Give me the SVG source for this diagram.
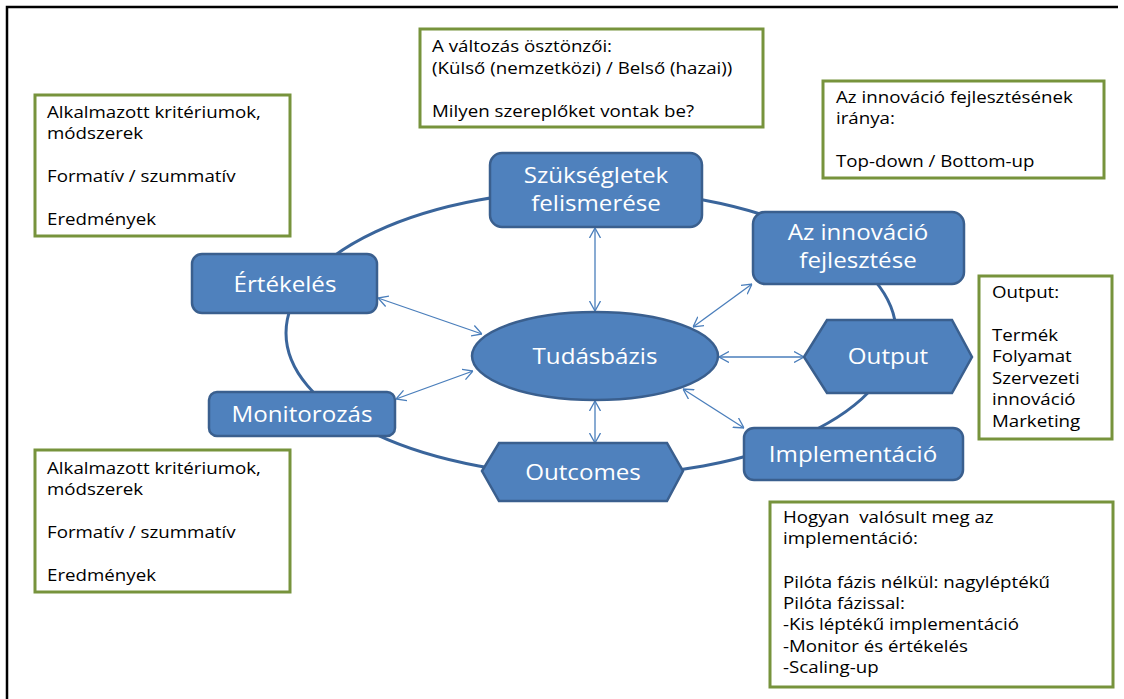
<svg xmlns="http://www.w3.org/2000/svg" width="1124" height="699" viewBox="0 0 1124 699">
<style>
.box{fill:#fff;stroke:#77933c;stroke-width:3}
.bt{font-family:"Open Sans","Noto Sans",sans-serif;font-size:16px;fill:#000;transform-box:fill-box;transform-origin:left center;transform:scaleX(1.17)}
.node{fill:#4f81bd;stroke:#3a5f8e;stroke-width:2.5}
.nt{font-family:"Open Sans","Noto Sans",sans-serif;font-size:21px;fill:#fff;text-anchor:middle;transform-box:fill-box;transform-origin:center;transform:scaleX(1.15)}
.ring{fill:none;stroke:#3a659b;stroke-width:3}
.con{fill:none;stroke:#4a7ebb;stroke-width:1.3;marker-start:url(#ah);marker-end:url(#ah)}
</style>
<defs>
<marker id="ah" viewBox="0 0 10 12" refX="10" refY="6" markerWidth="10" markerHeight="12" markerUnits="userSpaceOnUse" orient="auto-start-reverse">
<path d="M0,0.5 L10,6 L0,11.5" fill="none" stroke="#4a7ebb" stroke-width="1.3"/>
</marker>
</defs>
<rect width="1124" height="699" fill="#fff"/>
<path d="M7,699 V7 H1118" fill="none" stroke="#000" stroke-width="2.5"/>

<g id="ring"><ellipse class="ring" cx="591" cy="333" rx="305" ry="143"/></g>

<g id="connectors">
<line class="con" x1="595" y1="228" x2="595" y2="311"/>
<line class="con" x1="378" y1="298" x2="482" y2="334"/>
<line class="con" x1="396" y1="399" x2="473" y2="371"/>
<line class="con" x1="595" y1="401" x2="595" y2="443"/>
<line class="con" x1="693" y1="327" x2="752" y2="284"/>
<line class="con" x1="719" y1="357" x2="804" y2="357"/>
<line class="con" x1="683" y1="389" x2="744" y2="428"/>
</g>

<g id="n-szukseglet"><rect class="node" x="490" y="153" width="212" height="74" rx="12"/>
<text class="nt" x="596" y="183">Szükségletek</text><text class="nt" x="596" y="211">felismerése</text></g>
<g id="n-innovacio"><rect class="node" x="753" y="212" width="211" height="72" rx="12"/>
<text class="nt" x="858" y="240">Az innováció</text><text class="nt" x="858" y="268">fejlesztése</text></g>
<g id="n-ertekeles"><rect class="node" x="192" y="254" width="185" height="59" rx="10"/>
<text class="nt" x="285" y="292">Értékelés</text></g>
<g id="n-monitorozas"><rect class="node" x="209" y="392" width="186" height="44" rx="8"/>
<text class="nt" x="302" y="422">Monitorozás</text></g>
<g id="n-tudasbazis"><ellipse class="node" cx="595" cy="356" rx="123" ry="44"/>
<text class="nt" x="595" y="364">Tudásbázis</text></g>
<g id="n-output"><polygon class="node" points="804,357 827,320 952,320 972,357 952,393 827,393"/>
<text class="nt" x="888" y="364">Output</text></g>
<g id="n-implementacio"><rect class="node" x="744" y="428" width="219" height="52" rx="10"/>
<text class="nt" x="853" y="462">Implementáció</text></g>
<g id="n-outcomes"><polygon class="node" points="482,471 499,443 667,443 683,471 667,501 499,501"/>
<text class="nt" x="583" y="480">Outcomes</text></g>

<g id="b-topleft"><rect class="box" x="35" y="95" width="255" height="141"/>
<text class="bt" x="47" y="118">Alkalmazott kritériumok,</text>
<text class="bt" x="47" y="139.5">módszerek</text>
<text class="bt" x="47" y="182.5">Formatív / szummatív</text>
<text class="bt" x="47" y="225.5">Eredmények</text></g>

<g id="b-topcenter"><rect class="box" x="420" y="29" width="343" height="98"/>
<text class="bt" x="432" y="52.5">A változás ösztönzői:</text>
<text class="bt" x="432" y="74">(Külső (nemzetközi) / Belső (hazai))</text>
<text class="bt" x="432" y="117">Milyen szereplőket vontak be?</text></g>

<g id="b-topright"><rect class="box" x="823" y="81" width="281" height="97"/>
<text class="bt" x="836" y="103">Az innováció fejlesztésének</text>
<text class="bt" x="836" y="124.5">iránya:</text>
<text class="bt" x="836" y="167.5">Top-down / Bottom-up</text></g>

<g id="b-output"><rect class="box" x="979" y="276" width="133" height="163"/>
<text class="bt" x="992" y="298">Output:</text>
<text class="bt" x="992" y="341">Termék</text>
<text class="bt" x="992" y="362.5">Folyamat</text>
<text class="bt" x="992" y="384">Szervezeti</text>
<text class="bt" x="992" y="405.5">innováció</text>
<text class="bt" x="992" y="427">Marketing</text></g>

<g id="b-bottomleft"><rect class="box" x="35" y="450" width="255" height="142"/>
<text class="bt" x="47" y="474">Alkalmazott kritériumok,</text>
<text class="bt" x="47" y="495.5">módszerek</text>
<text class="bt" x="47" y="538.5">Formatív / szummatív</text>
<text class="bt" x="47" y="581.5">Eredmények</text></g>

<g id="b-bottomright"><rect class="box" x="770" y="502" width="343" height="185"/>
<text class="bt" x="783" y="523" xml:space="preserve">Hogyan  valósult meg az</text>
<text class="bt" x="783" y="544.5">implementáció:</text>
<text class="bt" x="783" y="587.5">Pilóta fázis nélkül: nagyléptékű</text>
<text class="bt" x="783" y="609">Pilóta fázissal:</text>
<text class="bt" x="783" y="630.5">-Kis léptékű implementáció</text>
<text class="bt" x="783" y="652">-Monitor és értékelés</text>
<text class="bt" x="783" y="673.5">-Scaling-up</text></g>
</svg>
